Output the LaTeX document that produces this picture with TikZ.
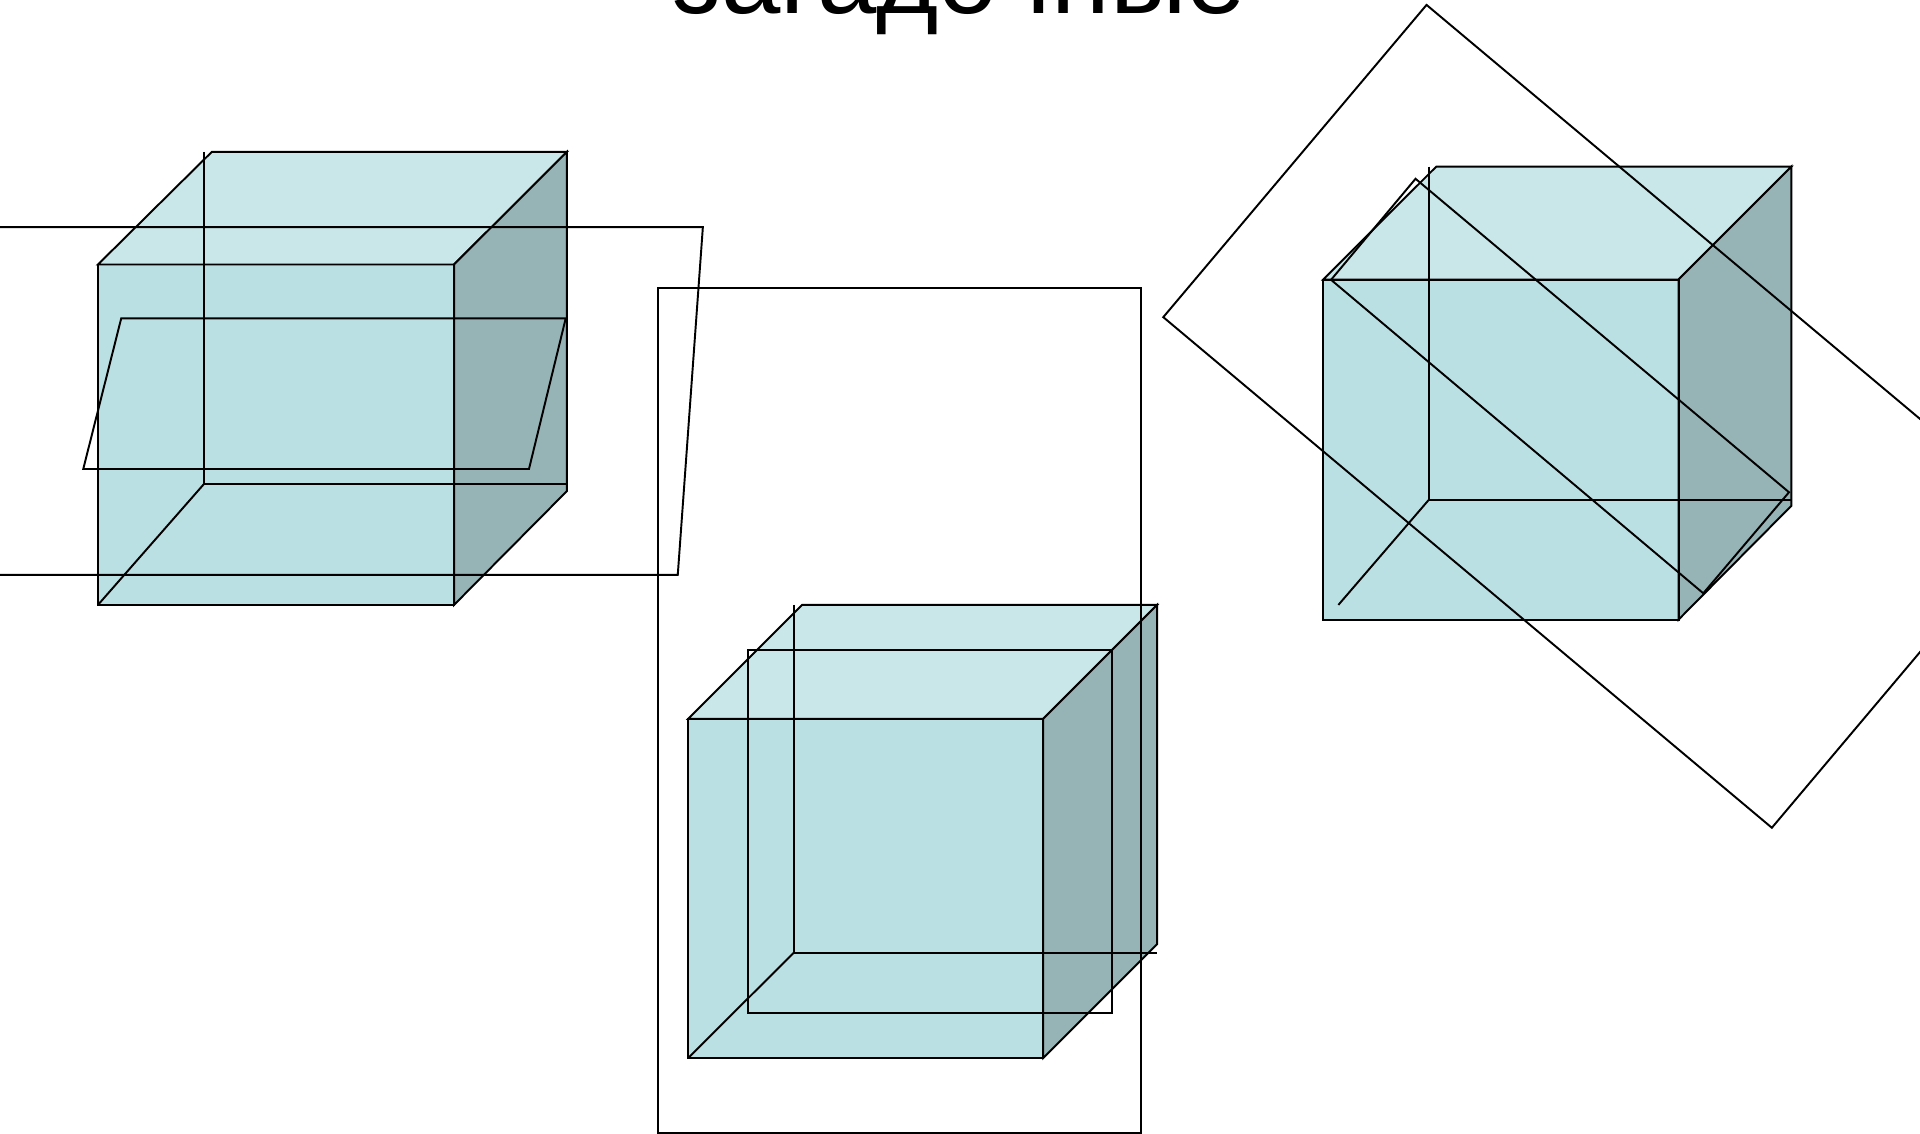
\documentclass[tikz,border=0pt]{standalone}
\usepackage{fontspec}
\setmainfont{Liberation Sans}
\definecolor{cubefront}{HTML}{BBE0E3}
\definecolor{cubetop}{HTML}{C9E6E8}
\definecolor{cubeside}{HTML}{96B3B5}
\tikzset{
  edge/.style={draw=black,line width=1.45pt,line join=miter},
  front/.style={edge,fill=cubefront},
  topface/.style={edge,fill=cubetop},
  sideface/.style={edge,fill=cubeside},
}
% #1,#2 front left, top; #3,#4 front right, bottom; #5,#6 back right, top; #7 back bottom; #8 back top-left x
\newcommand{\mycube}[8]{
  \fill[cubefront] (#1,#2) rectangle (#3,#4);
  \path[topface] (#1,#2) -- (#8,#6) -- (#5,#6) -- (#3,#2) -- cycle;
  \path[sideface] (#3,#2) -- (#5,#6) -- (#5,#7) -- (#3,#4) -- cycle;
  \path[edge] (#1,#2) rectangle (#3,#4);
}
\begin{document}
\begin{tikzpicture}[x=0.9184pt,y=-0.9184pt]
\useasboundingbox (0,0) rectangle (1568,926);
\node[anchor=base,font=\fontsize{80pt}{82pt}\selectfont,inner sep=0pt] (title) at (783.5,11) {загадочные};

% left cube
\mycube{80}{216}{370.8}{494}{463}{124}{401}{173}
\draw[edge] (166.8,124) -- (166.8,395) -- (463,395);
\draw[edge] (80,494) -- (166.8,395);
\draw[edge] (-20,185.5) -- (574,185.5) -- (553.5,469.5) -- (-20,469.5);
\draw[edge] (99,260) -- (462,260) -- (432,383) -- (68,383) -- cycle;

% middle cube
\mycube{562}{587}{852}{864}{945}{494}{771}{655}
\draw[edge] (648.3,494) -- (648.3,778) -- (945,778);
\draw[edge] (562,864) -- (648.3,778);
\draw[edge] (537,235) rectangle (932,925.5);
\draw[edge] (611,531) rectangle (908,827);

% right cube
\mycube{1080.6}{228.3}{1370.8}{506}{1463}{136}{413}{1173}
\draw[edge] (1167,136) -- (1167,408) -- (1463,408);
\draw[edge] (1093,494) -- (1167,408);
\draw[edge] (1165,4) -- (1662,421) -- (1447,676) -- (950,259) -- cycle;
\draw[edge] (1156,146) -- (1461,402) -- (1391,484.5) -- (1087,228.5) -- cycle;
\end{tikzpicture}
\end{document}
